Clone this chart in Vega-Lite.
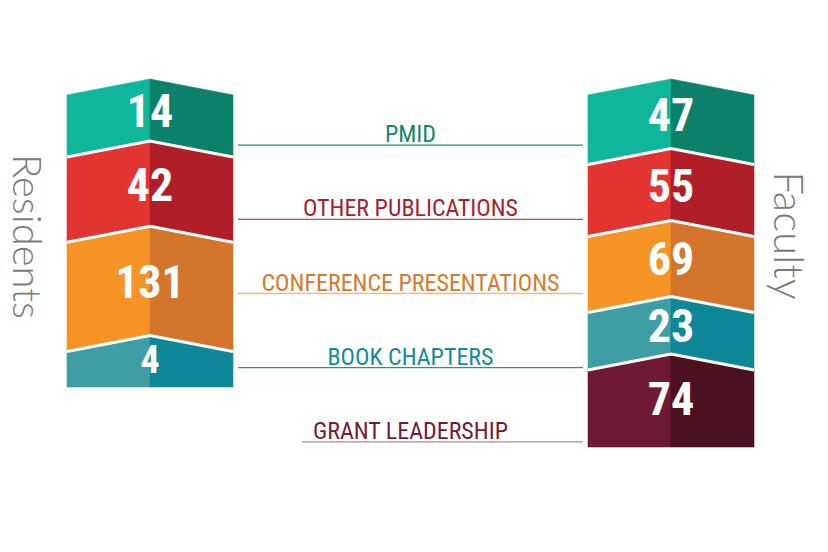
{
  "$schema": "https://vega.github.io/schema/vega-lite/v6.json",
  "background": "white",
  "padding": {"left": 4, "top": 77, "right": 20, "bottom": 5},
  "bounds": "flush",
  "spacing": 5,
  "resolve": {"scale": {"stroke": "independent", "fill": "independent", "color": "independent"}},
  "config": {"view": {"stroke": null}},
  "datasets": {
    "main": [
      {"group": "Residents", "cat": "PMID", "value": 14},
      {"group": "Residents", "cat": "OTHER PUBLICATIONS", "value": 42},
      {"group": "Residents", "cat": "CONFERENCE PRESENTATIONS", "value": 131},
      {"group": "Residents", "cat": "BOOK CHAPTERS", "value": 4},
      {"group": "Faculty", "cat": "PMID", "value": 47},
      {"group": "Faculty", "cat": "OTHER PUBLICATIONS", "value": 55},
      {"group": "Faculty", "cat": "CONFERENCE PRESENTATIONS", "value": 69},
      {"group": "Faculty", "cat": "BOOK CHAPTERS", "value": 23},
      {"group": "Faculty", "cat": "GRANT LEADERSHIP", "value": 74}
    ]
  },
  "hconcat": [
    {
      "width": 166,
      "height": 308,
      "data": {"name": "main"},
      "transform": [
        {"filter": "datum.group === 'Residents'"},
        {"calculate": "indexof(['PMID','OTHER PUBLICATIONS','CONFERENCE PRESENTATIONS','BOOK CHAPTERS','GRANT LEADERSHIP'], datum.cat)", "as": "ord"},
        {"calculate": "log(datum.value) + 0.3", "as": "h"},
        {"stack": "h", "groupby": [], "sort": [{"field": "ord", "order": "ascending"}], "as": ["top", "bottom"]},
        {"joinaggregate": [{"op": "max", "field": "bottom", "as": "maxb"}]},
        {"calculate": "0.758", "as": "k"}
      ],
      "layer": [
        {
          "transform": [
            {"calculate": "[-1,0,0,1]", "as": "xs"},
            {"calculate": "['L','L','R','R']", "as": "sd"},
            {"flatten": ["xs", "sd"]},
            {"calculate": "datum.top + datum.k*abs(datum.xs)", "as": "yt"},
            {"calculate": "datum.bottom === datum.maxb ? datum.bottom + datum.k : datum.bottom + datum.k*abs(datum.xs)", "as": "yb"},
            {"calculate": "datum.cat + '|' + datum.sd", "as": "key"}
          ],
          "mark": {"type": "area", "orient": "vertical", "interpolate": "linear", "strokeWidth": 0.6},
          "encoding": {
            "x": {"field": "xs", "type": "quantitative", "scale": {"domain": [-1, 1], "nice": false, "zero": false}, "axis": null},
            "y": {"field": "yt", "type": "quantitative", "stack": null, "scale": {"reverse": true, "nice": false, "zero": true},
              "axis": {"title": "Residents", "orient": "left", "labels": false, "ticks": false, "domain": false, "grid": false,
                "titleAngle": 90, "titleX": -55, "titleY": 157, "titleAlign": "center", "titleBaseline": "alphabetic",
                "titleFont": "Lato", "titleFontWeight": 300, "titleFontSize": 40, "titleColor": "#7a7a7a"}},
            "y2": {"field": "yb"},
            "color": {"field": "key", "type": "nominal", "legend": null,
              "scale": {"domain": ["PMID|L","PMID|R","OTHER PUBLICATIONS|L","OTHER PUBLICATIONS|R","CONFERENCE PRESENTATIONS|L","CONFERENCE PRESENTATIONS|R","BOOK CHAPTERS|L","BOOK CHAPTERS|R","GRANT LEADERSHIP|L","GRANT LEADERSHIP|R"],
                "range": ["#10b69b","#0b8169","#e23431","#b01e27","#f59425","#d3752b","#3f9ea4","#0e8899","#6e1a34","#4a1221"]}},
            "stroke": {"field": "key", "type": "nominal", "legend": null,
              "scale": {"domain": ["PMID|L","PMID|R","OTHER PUBLICATIONS|L","OTHER PUBLICATIONS|R","CONFERENCE PRESENTATIONS|L","CONFERENCE PRESENTATIONS|R","BOOK CHAPTERS|L","BOOK CHAPTERS|R","GRANT LEADERSHIP|L","GRANT LEADERSHIP|R"],
                "range": ["#10b69b","#0b8169","#e23431","#b01e27","#f59425","#d3752b","#3f9ea4","#0e8899","#6e1a34","#4a1221"]}}
          }
        },
        {
          "transform": [
            {"filter": "datum.ord > 0"},
            {"calculate": "[-1,0,1]", "as": "xs"},
            {"flatten": ["xs"]},
            {"calculate": "datum.top + datum.k*abs(datum.xs)", "as": "yt"}
          ],
          "mark": {"type": "line", "color": "white", "strokeWidth": 3, "strokeCap": "butt"},
          "encoding": {
            "x": {"field": "xs", "type": "quantitative"},
            "y": {"field": "yt", "type": "quantitative"},
            "detail": {"field": "cat"}
          }
        },
        {
          "transform": [
            {"calculate": "datum.bottom === datum.maxb ? (datum.top + datum.bottom)/2 + 0.35*datum.k : (datum.top + datum.bottom)/2", "as": "mid"}
          ],
          "mark": {"type": "text", "color": "white", "font": "Roboto Condensed, Liberation Sans Narrow, Liberation Sans, sans-serif", "fontWeight": "bold", "baseline": "middle", "align": "center", "dy": 3},
          "encoding": {
            "x": {"datum": 0, "type": "quantitative"},
            "y": {"field": "mid", "type": "quantitative"},
            "text": {"field": "value", "type": "quantitative"},
            "size": {"condition": {"test": "datum.value < 10", "value": 38}, "value": 46}
          }
        }
      ]
    },
    {
      "width": 345,
      "height": 429,
      "data": {"name": "main"},
      "transform": [{"filter": "datum.group === 'Faculty'"}],
      "encoding": {
        "y": {"field": "cat", "type": "nominal", "sort": ["PMID","OTHER PUBLICATIONS","CONFERENCE PRESENTATIONS","BOOK CHAPTERS","GRANT LEADERSHIP"],
          "scale": {"type": "point", "padding": 0.892}, "axis": null}
      },
      "layer": [
        {
          "transform": [{"filter": "datum.cat !== 'GRANT LEADERSHIP'"}],
          "mark": {"type": "rule", "strokeWidth": 1.3},
          "encoding": {
            "x": {"datum": 0, "type": "quantitative", "scale": {"domain": [0, 1], "nice": false, "zero": false}, "axis": null},
            "x2": {"datum": 1},
            "stroke": {"field": "cat", "type": "nominal", "legend": null,
              "scale": {"domain": ["PMID","OTHER PUBLICATIONS","CONFERENCE PRESENTATIONS","BOOK CHAPTERS","GRANT LEADERSHIP"],
                "range": ["#1a9483","#c0464c","#f3b68a","#2a8e9c","#a9869a"]}}
          }
        },
        {
          "transform": [{"filter": "datum.cat === 'GRANT LEADERSHIP'"}],
          "mark": {"type": "rule", "strokeWidth": 1.3},
          "encoding": {
            "x": {"datum": 0.186, "type": "quantitative"},
            "x2": {"datum": 1},
            "stroke": {"field": "cat", "type": "nominal", "legend": null}
          }
        },
        {
          "mark": {"type": "text", "font": "Roboto Condensed, Liberation Sans Narrow, DejaVu Sans Condensed, sans-serif", "fontSize": 24, "baseline": "alphabetic", "align": "center", "dy": -3},
          "encoding": {
            "x": {"datum": 0.5, "type": "quantitative"},
            "text": {"field": "cat"},
            "fill": {"field": "cat", "type": "nominal", "legend": null,
              "scale": {"domain": ["PMID","OTHER PUBLICATIONS","CONFERENCE PRESENTATIONS","BOOK CHAPTERS","GRANT LEADERSHIP"],
                "range": ["#11876f","#a81f2b","#d57a2d","#138b9b","#751a36"]}}
          }
        }
      ]
    },
    {
      "width": 166,
      "height": 368,
      "data": {"name": "main"},
      "transform": [
        {"filter": "datum.group === 'Faculty'"},
        {"calculate": "indexof(['PMID','OTHER PUBLICATIONS','CONFERENCE PRESENTATIONS','BOOK CHAPTERS','GRANT LEADERSHIP'], datum.cat)", "as": "ord"},
        {"calculate": "log(datum.value) + 0.3", "as": "h"},
        {"stack": "h", "groupby": [], "sort": [{"field": "ord", "order": "ascending"}], "as": ["top", "bottom"]},
        {"joinaggregate": [{"op": "max", "field": "bottom", "as": "maxb"}]},
        {"calculate": "0.956", "as": "k"}
      ],
      "layer": [
        {
          "transform": [
            {"calculate": "[-1,0,0,1]", "as": "xs"},
            {"calculate": "['L','L','R','R']", "as": "sd"},
            {"flatten": ["xs", "sd"]},
            {"calculate": "datum.top + datum.k*abs(datum.xs)", "as": "yt"},
            {"calculate": "datum.bottom === datum.maxb ? datum.bottom + datum.k : datum.bottom + datum.k*abs(datum.xs)", "as": "yb"},
            {"calculate": "datum.cat + '|' + datum.sd", "as": "key"}
          ],
          "mark": {"type": "area", "orient": "vertical", "interpolate": "linear", "strokeWidth": 0.6},
          "encoding": {
            "x": {"field": "xs", "type": "quantitative", "scale": {"domain": [-1, 1], "nice": false, "zero": false}, "axis": null},
            "y": {"field": "yt", "type": "quantitative", "stack": null, "scale": {"reverse": true, "nice": false, "zero": true},
              "axis": {"title": "Faculty", "orient": "right", "labels": false, "ticks": false, "domain": false, "grid": false,
                "titleAngle": 90, "titleX": 19, "titleY": 156, "titleAlign": "center", "titleBaseline": "alphabetic",
                "titleFont": "Lato", "titleFontWeight": 300, "titleFontSize": 42, "titleColor": "#7a7a7a"}},
            "y2": {"field": "yb"},
            "color": {"field": "key", "type": "nominal", "legend": null,
              "scale": {"domain": ["PMID|L","PMID|R","OTHER PUBLICATIONS|L","OTHER PUBLICATIONS|R","CONFERENCE PRESENTATIONS|L","CONFERENCE PRESENTATIONS|R","BOOK CHAPTERS|L","BOOK CHAPTERS|R","GRANT LEADERSHIP|L","GRANT LEADERSHIP|R"],
                "range": ["#10b69b","#0b8169","#e23431","#b01e27","#f59425","#d3752b","#3f9ea4","#0e8899","#6e1a34","#4a1221"]}},
            "stroke": {"field": "key", "type": "nominal", "legend": null,
              "scale": {"domain": ["PMID|L","PMID|R","OTHER PUBLICATIONS|L","OTHER PUBLICATIONS|R","CONFERENCE PRESENTATIONS|L","CONFERENCE PRESENTATIONS|R","BOOK CHAPTERS|L","BOOK CHAPTERS|R","GRANT LEADERSHIP|L","GRANT LEADERSHIP|R"],
                "range": ["#10b69b","#0b8169","#e23431","#b01e27","#f59425","#d3752b","#3f9ea4","#0e8899","#6e1a34","#4a1221"]}}
          }
        },
        {
          "transform": [
            {"filter": "datum.ord > 0"},
            {"calculate": "[-1,0,1]", "as": "xs"},
            {"flatten": ["xs"]},
            {"calculate": "datum.top + datum.k*abs(datum.xs)", "as": "yt"}
          ],
          "mark": {"type": "line", "color": "white", "strokeWidth": 3, "strokeCap": "butt"},
          "encoding": {
            "x": {"field": "xs", "type": "quantitative"},
            "y": {"field": "yt", "type": "quantitative"},
            "detail": {"field": "cat"}
          }
        },
        {
          "transform": [
            {"calculate": "datum.bottom === datum.maxb ? (datum.top + datum.bottom)/2 + 0.35*datum.k : (datum.top + datum.bottom)/2", "as": "mid"}
          ],
          "mark": {"type": "text", "color": "white", "font": "Roboto Condensed, Liberation Sans Narrow, Liberation Sans, sans-serif", "fontWeight": "bold", "baseline": "middle", "align": "center", "dy": 3},
          "encoding": {
            "x": {"datum": 0, "type": "quantitative"},
            "y": {"field": "mid", "type": "quantitative"},
            "text": {"field": "value", "type": "quantitative"},
            "size": {"condition": {"test": "datum.value < 10", "value": 38}, "value": 46}
          }
        }
      ]
    }
  ]
}
